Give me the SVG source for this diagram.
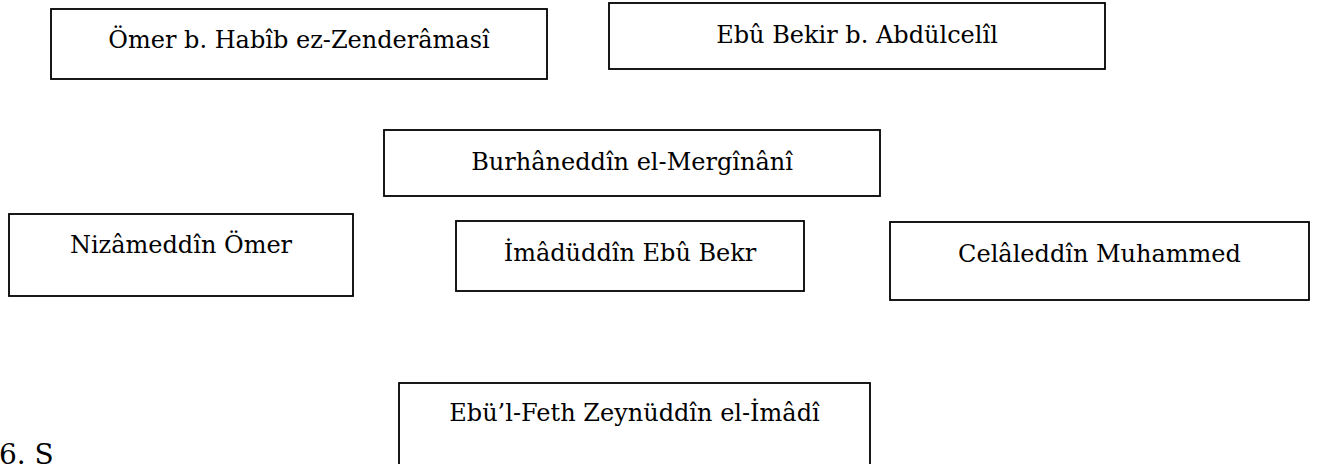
<svg xmlns="http://www.w3.org/2000/svg" width="1319" height="464" viewBox="0 0 1319 464">
<style>
.box{fill:#fff;stroke:#000;stroke-width:1.8}
.t{font-family:"DejaVu Serif","Liberation Serif",serif;font-size:24px;fill:#000;text-anchor:middle}
</style>
<rect width="1319" height="464" fill="#fff"/>
<g id="connectors"></g>
<g id="n1"><rect class="box" x="51" y="9" width="496" height="70"/><text class="t" x="299" y="48">Ömer b. Habîb ez-Zenderâmasî</text></g>
<g id="n2"><rect class="box" x="609" y="3" width="496" height="66"/><text class="t" x="857" y="43">Ebû Bekir b. Abdülcelîl</text></g>
<g id="n3"><rect class="box" x="384" y="130" width="496" height="66"/><text class="t" x="632" y="170">Burhâneddîn el-Mergînânî</text></g>
<g id="n4"><rect class="box" x="9" y="214" width="344" height="82"/><text class="t" x="181" y="253">Nizâmeddîn Ömer</text></g>
<g id="n5"><rect class="box" x="456" y="221" width="348" height="70"/><text class="t" x="630" y="261">İmâdüddîn Ebû Bekr</text></g>
<g id="n6"><rect class="box" x="890" y="222" width="419" height="78"/><text class="t" x="1099.5" y="262">Celâleddîn Muhammed</text></g>
<g id="n7"><rect class="box" x="399" y="383" width="471" height="90"/><text class="t" x="634.5" y="421">Ebü’l-Feth Zeynüddîn el-İmâdî</text></g>
<text x="-1" y="464" style="font-family:'DejaVu Serif','Liberation Serif',serif;font-size:28px">6. S</text>
</svg>
